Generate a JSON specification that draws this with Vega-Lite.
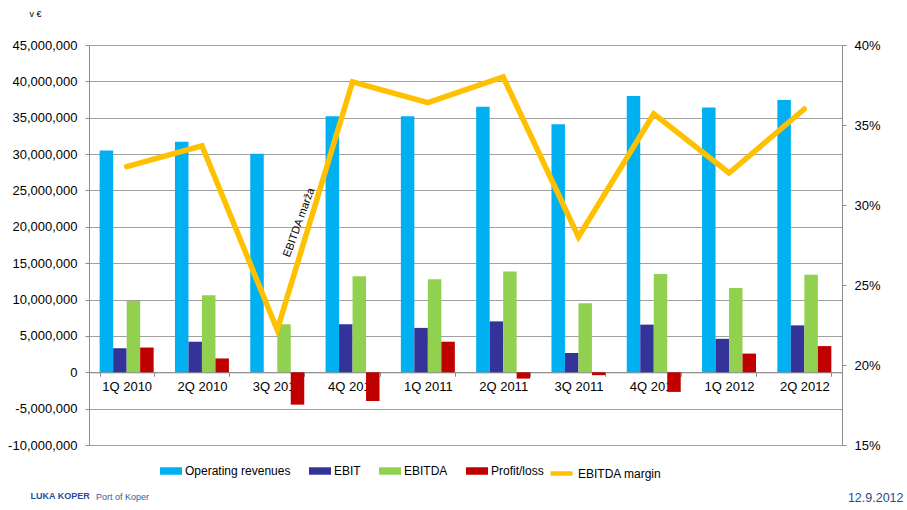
{
  "$schema": "https://vega.github.io/schema/vega-lite/v6.json",
  "autosize": {"type": "none"},
  "width": 753,
  "height": 400,
  "padding": {"left": 89, "top": 45, "right": 65, "bottom": 65},
  "background": "white",
  "config": {
    "font": "Liberation Sans",
    "view": {"stroke": null},
    "axis": {"labelColor": "#000000", "labelFont": "Liberation Sans", "titleFont": "Liberation Sans"},
    "legend": {"labelFont": "Liberation Sans", "labelColor": "#000000"}
  },
  "title": {
    "text": "Port of Koper",
    "orient": "bottom",
    "anchor": "start",
    "frame": "group",
    "dx": 7,
    "dy": -15,
    "fontSize": 9,
    "fontWeight": "normal",
    "color": "#3A5A9A",
    "font": "Liberation Sans"
  },
  "datasets": {
    "bars": [
      {"q": "1Q 2010", "series": "Operating revenues", "value": 30480000},
      {"q": "1Q 2010", "series": "EBIT", "value": 3300000},
      {"q": "1Q 2010", "series": "EBITDA", "value": 9800000},
      {"q": "1Q 2010", "series": "Profit/loss", "value": 3400000},
      {"q": "2Q 2010", "series": "Operating revenues", "value": 31700000},
      {"q": "2Q 2010", "series": "EBIT", "value": 4200000},
      {"q": "2Q 2010", "series": "EBITDA", "value": 10600000},
      {"q": "2Q 2010", "series": "Profit/loss", "value": 1900000},
      {"q": "3Q 2010", "series": "Operating revenues", "value": 30050000},
      {"q": "3Q 2010", "series": "EBIT", "value": 0},
      {"q": "3Q 2010", "series": "EBITDA", "value": 6600000},
      {"q": "3Q 2010", "series": "Profit/loss", "value": -4450000},
      {"q": "4Q 2010", "series": "Operating revenues", "value": 35200000},
      {"q": "4Q 2010", "series": "EBIT", "value": 6600000},
      {"q": "4Q 2010", "series": "EBITDA", "value": 13200000},
      {"q": "4Q 2010", "series": "Profit/loss", "value": -3950000},
      {"q": "1Q 2011", "series": "Operating revenues", "value": 35200000},
      {"q": "1Q 2011", "series": "EBIT", "value": 6100000},
      {"q": "1Q 2011", "series": "EBITDA", "value": 12800000},
      {"q": "1Q 2011", "series": "Profit/loss", "value": 4200000},
      {"q": "2Q 2011", "series": "Operating revenues", "value": 36500000},
      {"q": "2Q 2011", "series": "EBIT", "value": 7000000},
      {"q": "2Q 2011", "series": "EBITDA", "value": 13850000},
      {"q": "2Q 2011", "series": "Profit/loss", "value": -870000},
      {"q": "3Q 2011", "series": "Operating revenues", "value": 34100000},
      {"q": "3Q 2011", "series": "EBIT", "value": 2650000},
      {"q": "3Q 2011", "series": "EBITDA", "value": 9500000},
      {"q": "3Q 2011", "series": "Profit/loss", "value": -400000},
      {"q": "4Q 2011", "series": "Operating revenues", "value": 38000000},
      {"q": "4Q 2011", "series": "EBIT", "value": 6550000},
      {"q": "4Q 2011", "series": "EBITDA", "value": 13500000},
      {"q": "4Q 2011", "series": "Profit/loss", "value": -2700000},
      {"q": "1Q 2012", "series": "Operating revenues", "value": 36400000},
      {"q": "1Q 2012", "series": "EBIT", "value": 4600000},
      {"q": "1Q 2012", "series": "EBITDA", "value": 11600000},
      {"q": "1Q 2012", "series": "Profit/loss", "value": 2570000},
      {"q": "2Q 2012", "series": "Operating revenues", "value": 37450000},
      {"q": "2Q 2012", "series": "EBIT", "value": 6450000},
      {"q": "2Q 2012", "series": "EBITDA", "value": 13400000},
      {"q": "2Q 2012", "series": "Profit/loss", "value": 3600000}
    ],
    "margin": [
      {"q": "1Q 2010", "margin": 0.324, "series": "EBITDA margin"},
      {"q": "2Q 2010", "margin": 0.337, "series": "EBITDA margin"},
      {"q": "3Q 2010", "margin": 0.222, "series": "EBITDA margin"},
      {"q": "4Q 2010", "margin": 0.377, "series": "EBITDA margin"},
      {"q": "1Q 2011", "margin": 0.364, "series": "EBITDA margin"},
      {"q": "2Q 2011", "margin": 0.380, "series": "EBITDA margin"},
      {"q": "3Q 2011", "margin": 0.280, "series": "EBITDA margin"},
      {"q": "4Q 2011", "margin": 0.357, "series": "EBITDA margin"},
      {"q": "1Q 2012", "margin": 0.320, "series": "EBITDA margin"},
      {"q": "2Q 2012", "margin": 0.360, "series": "EBITDA margin"}
    ],
    "note": [
      {"q": "3Q 2010", "pos": 0.294, "label": "EBITDA marža"}
    ]
  },
  "encoding": {
    "x": {
      "field": "q",
      "type": "nominal",
      "scale": {
        "domain": ["1Q 2010", "2Q 2010", "3Q 2010", "4Q 2010", "1Q 2011", "2Q 2011", "3Q 2011", "4Q 2011", "1Q 2012", "2Q 2012"],
        "paddingInner": 0.283,
        "paddingOuter": 0.1415
      },
      "axis": {
        "orient": "bottom",
        "offset": -72.7,
        "labelAngle": 0,
        "labelFontSize": 13,
        "labelPadding": 4,
        "tickBand": "extent",
        "tickSize": 4,
        "tickColor": "#8C8C8C",
        "domainColor": "#8C8C8C",
        "grid": false,
        "title": "LUKA KOPER",
        "titleX": -59,
        "titleY": 123,
        "titleAlign": "left",
        "titleBaseline": "middle",
        "titleFontSize": 9,
        "titleFontWeight": "bold",
        "titleColor": "#1F4E9F"
      }
    }
  },
  "layer": [
    {
      "data": {"name": "bars"},
      "mark": {"type": "bar"},
      "encoding": {
        "xOffset": {
          "field": "series",
          "type": "nominal",
          "scale": {"domain": ["Operating revenues", "EBIT", "EBITDA", "Profit/loss"], "paddingInner": 0, "paddingOuter": 0}
        },
        "y": {
          "field": "value",
          "type": "quantitative",
          "scale": {"domain": [-10000000, 45000000], "nice": false, "zero": false},
          "axis": {
            "values": [-10000000, -5000000, 0, 5000000, 10000000, 15000000, 20000000, 25000000, 30000000, 35000000, 40000000, 45000000],
            "labelExpr": "replace(format(datum.value, ','), '\u2212', '-')",
            "labelFontSize": 13,
            "labelPadding": 8,
            "tickSize": 4,
            "tickColor": "#8C8C8C",
            "domainColor": "#8C8C8C",
            "grid": true,
            "gridColor": "#A0A0A0",
            "gridWidth": 1,
            "title": "v €",
            "titleAngle": 0,
            "titleX": -60,
            "titleY": -32,
            "titleAlign": "left",
            "titleBaseline": "middle",
            "titleFontSize": 9,
            "titleFontWeight": "normal",
            "titleColor": "#000000"
          }
        },
        "fill": {
          "field": "series",
          "type": "nominal",
          "scale": {
            "domain": ["Operating revenues", "EBIT", "EBITDA", "Profit/loss"],
            "range": ["#00B0F0", "#333399", "#92D050", "#C00000"]
          },
          "legend": {
            "orient": "none",
            "legendX": 71,
            "legendY": 415,
            "direction": "horizontal",
            "title": null,
            "symbolType": "M-1,-0.34H1V0.34H-1Z",
            "symbolSize": 484,
            "symbolStrokeWidth": 0,
            "labelFontSize": 12,
            "labelOffset": 3,
            "columnPadding": 18,
            "padding": 0
          }
        }
      }
    },
    {
      "data": {"name": "margin"},
      "mark": {"type": "line", "strokeWidth": 5.5, "strokeCap": "round", "strokeJoin": "miter"},
      "encoding": {
        "y": {
          "field": "margin",
          "type": "quantitative",
          "scale": {"domain": [0.15, 0.40], "nice": false, "zero": false},
          "axis": {
            "orient": "right",
            "values": [0.15, 0.2, 0.25, 0.3, 0.35, 0.4],
            "format": ".0%",
            "labelFontSize": 13,
            "labelPadding": 8,
            "tickSize": 4,
            "tickColor": "#8C8C8C",
            "domainColor": "#8C8C8C",
            "grid": false,
            "title": "12.9.2012",
            "titleAngle": 0,
            "titleX": 61,
            "titleY": 452,
            "titleAlign": "right",
            "titleBaseline": "middle",
            "titleFontSize": 12.5,
            "titleFontWeight": "normal",
            "titleColor": "#2A4B8D"
          }
        },
        "stroke": {
          "field": "series",
          "type": "nominal",
          "scale": {"domain": ["EBITDA margin"], "range": ["#FFC000"]},
          "legend": {
            "orient": "none",
            "legendX": 459,
            "legendY": 415,
            "direction": "horizontal",
            "title": null,
            "symbolType": "stroke",
            "symbolSize": 484,
            "symbolStrokeWidth": 4.5,
            "labelFontSize": 12,
            "labelOffset": 3,
            "padding": 0
          }
        }
      }
    },
    {
      "data": {"name": "note"},
      "mark": {"type": "text", "angle": 290, "dy": 23.4, "fontSize": 11, "align": "center", "baseline": "middle", "color": "#000000"},
      "encoding": {
        "y": {
          "field": "pos",
          "type": "quantitative",
          "scale": {"domain": [0.15, 0.40], "nice": false, "zero": false},
          "axis": null
        },
        "text": {"field": "label"}
      }
    }
  ],
  "resolve": {"scale": {"y": "independent"}}
}
